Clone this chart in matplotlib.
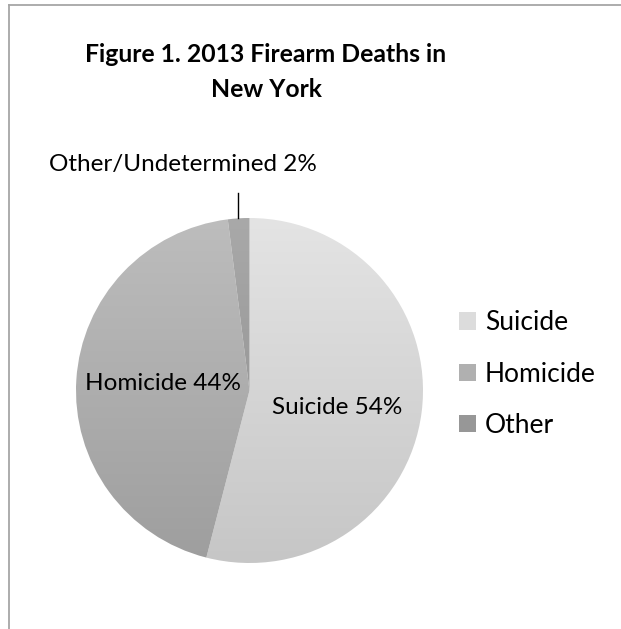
import numpy as np
import matplotlib.pyplot as plt
from matplotlib.colors import LinearSegmentedColormap
from matplotlib.patches import Patch
from matplotlib.lines import Line2D

categories = ['Suicide', 'Homicide', 'Other']
label_names = ['Suicide', 'Homicide', 'Other/Undetermined']
shares = [54, 44, 2]
top_colors = ['#e4e4e4', '#bdbdbd', '#a9a9a9']
bottom_colors = ['#c6c6c6', '#9e9e9e', '#8a8a8a']
legend_colors = ['#dcdcdc', '#b0b0b0', '#979797']

plt.rcParams['font.family'] = ['Lato', 'DejaVu Sans']
W, H = 621, 629
fig = plt.figure(figsize=(W / 100, H / 100), dpi=100)

# chart frame (only left and top edges visible)
fig.add_artist(Line2D([9 / W, 9 / W], [0, 1 - 5 / H], color='#a6a6a6', lw=1.3))
fig.add_artist(Line2D([9 / W, 1], [1 - 5 / H, 1 - 5 / H], color='#a6a6a6', lw=1.3))

fig.text(266 / W, 1 - 72 / H, 'Figure 1. 2013 Firearm Deaths in\nNew York',
         ha='center', va='center', fontsize=17.8, fontweight='bold', linespacing=1.66)

ax = fig.add_axes([76 / W, 66 / H, 347 / W, 345 / H])
wedges, _ = ax.pie(shares, startangle=90, counterclock=False, radius=1,
                   wedgeprops=dict(linewidth=0))

# vertical gradient fill, Excel style
grad = np.linspace(1, 0, 256).reshape(-1, 1)
for w, c0, c1 in zip(wedges, top_colors, bottom_colors):
    cmap = LinearSegmentedColormap.from_list('g', [c1, c0])
    im = ax.imshow(grad, extent=(-1, 1, -1, 1), cmap=cmap, vmin=0, vmax=1,
                   aspect='auto', origin='upper', zorder=1)
    im.set_clip_path(w)
    w.set_facecolor('none')

ax.set_xlim(-1, 1)
ax.set_ylim(-1, 1)
ax.axis('off')

# data labels
label_pos = [(0.506, -0.098), (-0.50, 0.04), (-0.384, 1.31)]
for (x, y), name, s in zip(label_pos, label_names, shares):
    ax.text(x, y, f'{name} {s}%', ha='center', va='center', fontsize=17.5, zorder=3)
ax.plot([-0.066, -0.066], [1.0, 1.145], color='black', lw=1, clip_on=False, zorder=3)

handles = [Patch(facecolor=c, edgecolor='none') for c in legend_colors]
fig.legend(handles, categories, loc='center left', bbox_to_anchor=(459 / W, 1 - 374 / H),
           frameon=False, fontsize=19, handlelength=0.64, handleheight=0.64,
           labelspacing=1.0, handletextpad=0.34, borderpad=0, borderaxespad=0)

fig.savefig('out.png', dpi=100)
